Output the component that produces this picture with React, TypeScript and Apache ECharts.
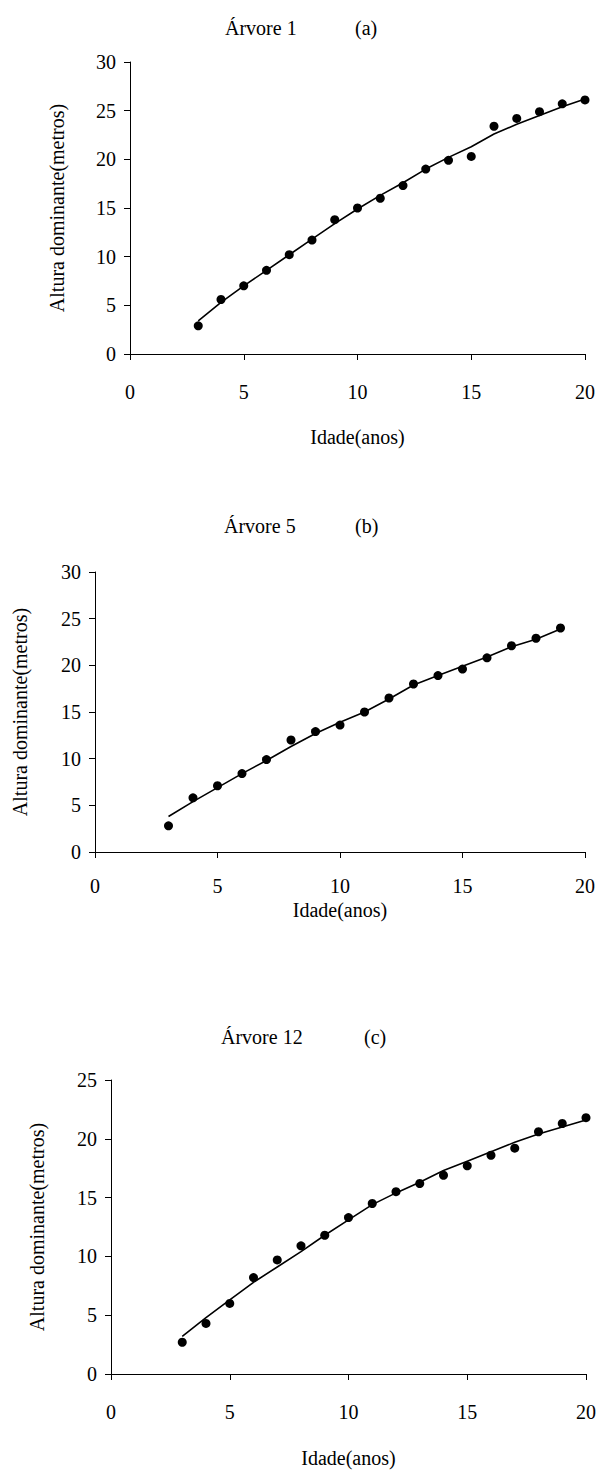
import React, { useEffect, useRef } from "react";
import * as echarts from "echarts";

// Árvore 1 (a): idade 3–20 anos
const ages1 = [3, 4, 5, 6, 7, 8, 9, 10, 11, 12, 13, 14, 15, 16, 17, 18, 19, 20];
const observed1 = [2.9, 5.6, 7.0, 8.6, 10.2, 11.7, 13.8, 15.0, 16.0, 17.3, 19.0, 19.9, 20.3, 23.4, 24.2, 24.9, 25.7, 26.1];
const fitted1 = [3.4, 5.3, 7.0, 8.6, 10.2, 11.8, 13.4, 14.9, 16.3, 17.6, 19.0, 20.2, 21.3, 22.6, 23.6, 24.5, 25.4, 26.2];

// Árvore 5 (b): idade 3–19 anos
const ages5 = [3, 4, 5, 6, 7, 8, 9, 10, 11, 12, 13, 14, 15, 16, 17, 18, 19];
const observed5 = [2.8, 5.8, 7.1, 8.4, 9.9, 12.0, 12.9, 13.6, 15.0, 16.5, 18.0, 18.9, 19.6, 20.8, 22.1, 22.9, 24.0];
const fitted5 = [3.8, 5.4, 6.9, 8.4, 9.8, 11.3, 12.7, 13.9, 15.0, 16.4, 17.9, 18.9, 19.9, 20.9, 22.0, 22.8, 23.9];

// Árvore 12 (c): idade 3–20 anos
const ages12 = [3, 4, 5, 6, 7, 8, 9, 10, 11, 12, 13, 14, 15, 16, 17, 18, 19, 20];
const observed12 = [2.7, 4.3, 6.0, 8.2, 9.7, 10.9, 11.8, 13.3, 14.5, 15.5, 16.2, 16.9, 17.7, 18.6, 19.2, 20.6, 21.3, 21.8];
const fitted12 = [3.2, 4.8, 6.3, 7.8, 9.1, 10.4, 11.8, 13.1, 14.4, 15.4, 16.3, 17.3, 18.1, 18.9, 19.7, 20.4, 21.0, 21.6];

const xTicks = [0, 5, 10, 15, 20];
const yMaxes = [30, 30, 25];
const panelTitles = ["Árvore 1", "Árvore 5", "Árvore 12"];
const panelLetters = ["(a)", "(b)", "(c)"];
const xName = "Idade(anos)";
const yName = "Altura dominante(metros)";

const FONT = "'Liberation Serif', 'Times New Roman', serif";
const INK = "#000";

const pairs = (xs: number[], ys: number[]) => xs.map((x, i) => [x, ys[i]]);

const layout = [
  { grid: { left: 130, top: 62, width: 455, height: 292 }, xMargin: 28, xGap: 73, yGap: 63, titleTop: 13, titleLeft: 220, letterLeft: 350 },
  { grid: { left: 95, top: 572, width: 490, height: 280 }, xMargin: 24, xGap: 48, yGap: 65, titleTop: 511, titleLeft: 219, letterLeft: 350 },
  { grid: { left: 111, top: 1080, width: 476, height: 294 }, xMargin: 28, xGap: 74, yGap: 64, titleTop: 1022, titleLeft: 216, letterLeft: 359 },
];

const datasets = [
  { ages: ages1, obs: observed1, fit: fitted1 },
  { ages: ages5, obs: observed5, fit: fitted5 },
  { ages: ages12, obs: observed12, fit: fitted12 },
];

function buildOption() {
  const textStyle = { fontFamily: FONT, color: INK, fontSize: 20 };
  const axisLine = { show: true, lineStyle: { color: INK, width: 1 } };
  const axisTick = { show: true, inside: false, length: 6, lineStyle: { color: INK, width: 1 } };

  const grid = layout.map((l) => l.grid);
  const title: any[] = [];
  layout.forEach((l, i) => {
    const ts = { ...textStyle, fontWeight: "normal", fontSize: 20 };
    title.push({ text: panelTitles[i], left: l.titleLeft, top: l.titleTop, textStyle: ts });
    title.push({ text: panelLetters[i], left: l.letterLeft, top: l.titleTop, textStyle: ts });
  });

  const xAxis = layout.map((l, i) => ({
    type: "value",
    gridIndex: i,
    min: xTicks[0],
    max: xTicks[xTicks.length - 1],
    interval: 5,
    name: xName,
    nameLocation: "middle",
    nameGap: l.xGap,
    nameTextStyle: textStyle,
    axisLine,
    axisTick,
    axisLabel: { ...textStyle, margin: l.xMargin },
    splitLine: { show: false },
  }));

  const yAxis = layout.map((l, i) => ({
    type: "value",
    gridIndex: i,
    min: 0,
    max: yMaxes[i],
    interval: 5,
    name: yName,
    nameLocation: "middle",
    nameGap: l.yGap,
    nameTextStyle: textStyle,
    axisLine,
    axisTick,
    axisLabel: { ...textStyle, margin: 14 },
    splitLine: { show: false },
  }));

  const series: any[] = [];
  datasets.forEach((d, i) => {
    series.push({
      type: "line",
      xAxisIndex: i,
      yAxisIndex: i,
      data: pairs(d.ages, d.fit),
      showSymbol: false,
      symbol: "none",
      lineStyle: { color: INK, width: 1.6 },
      z: 2,
    });
    series.push({
      type: "scatter",
      xAxisIndex: i,
      yAxisIndex: i,
      data: pairs(d.ages, d.obs),
      symbol: "circle",
      symbolSize: 9,
      itemStyle: { color: INK, opacity: 1 },
      z: 3,
    });
  });

  return { animation: false, backgroundColor: "#fff", title, grid, xAxis, yAxis, series };
}

export default function App() {
  const ref = useRef<HTMLDivElement>(null);
  useEffect(() => {
    if (!ref.current) return;
    const chart = echarts.init(ref.current, undefined, { renderer: "svg" });
    chart.setOption(buildOption() as any);
    return () => chart.dispose();
  }, []);
  return (
    <div
      ref={ref}
      style={{ position: "absolute", left: 0, top: 0, width: 599, height: 1470, background: "#fff" }}
    />
  );
}
